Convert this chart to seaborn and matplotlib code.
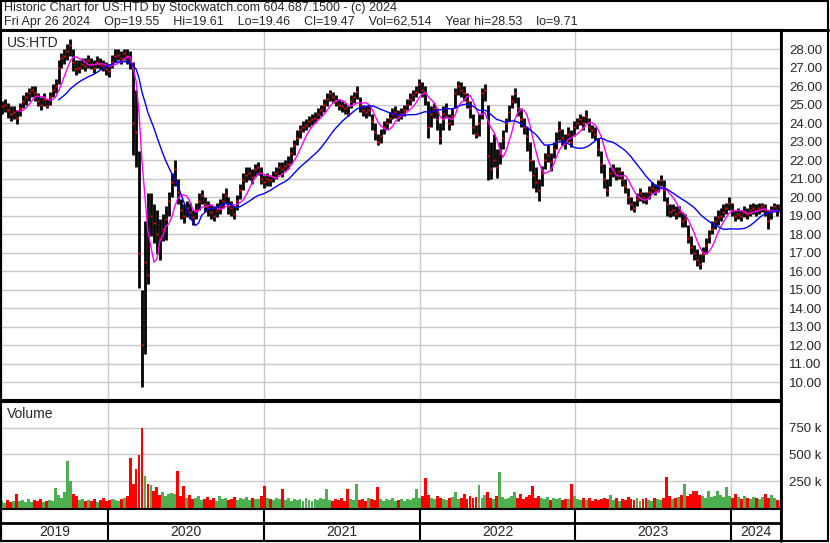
import numpy as np
import pandas as pd
import matplotlib
matplotlib.use("Agg")
import matplotlib.pyplot as plt
import seaborn as sns

sns.set_style("white")
plt.rcParams['font.family'] = ['Liberation Sans', 'DejaVu Sans']

# === weekly data (Apr 2019 - Apr 2024) ===
close = [24.9, 25.0, 24.7, 24.5, 24.6, 24.3, 24.8, 25.2, 25.4, 25.6,
         25.8, 25.6, 25.2, 25.0, 25.3, 24.9, 25.4, 25.8, 26.0, 27.0,
         27.5, 27.6, 27.9, 28.2, 27.3, 26.9, 27.0, 27.2, 27.1, 27.4,
         27.2, 27.0, 27.3, 27.2, 27.1, 26.9, 26.8, 27.3, 27.6, 27.7,
         27.5, 27.8, 27.6, 27.3, 24.0, 23.5, 17.0, 12.0, 16.5, 15.8,
         19.0, 18.6, 18.0, 17.8, 18.3, 18.8, 19.8, 20.8, 21.5, 20.3,
         19.3, 19.0, 19.4, 19.2, 18.9, 19.3, 19.8, 20.1, 19.6, 19.4,
         19.2, 19.0, 19.3, 19.5, 19.8, 20.1, 19.5, 19.4, 19.1, 19.8,
         20.4, 20.9, 21.2, 21.3, 21.1, 21.5, 21.6, 21.0, 20.8, 21.0,
         20.9, 21.1, 21.3, 21.6, 21.5, 21.7, 21.8, 22.4, 22.8, 23.2,
         23.6, 23.8, 23.9, 24.1, 24.2, 24.3, 24.5, 24.7, 25.0, 25.3,
         25.6, 25.4, 25.2, 25.0, 24.9, 24.8, 24.5, 25.2, 25.4, 25.7,
         25.0, 24.7, 24.6, 24.7, 24.1, 23.5, 23.0, 23.3, 23.8, 24.0,
         24.3, 24.5, 24.6, 24.4, 24.5, 24.7, 25.0, 25.3, 25.5, 25.7,
         26.1, 25.8, 25.6, 23.8, 24.5, 24.8, 24.2, 23.2, 24.5, 24.8,
         24.0, 24.4, 25.6, 26.0, 25.8, 25.6, 25.2, 24.8, 23.8, 23.4,
         24.0, 25.6, 25.8, 22.2, 21.5, 22.0, 21.6, 22.4, 23.2, 24.0,
         24.6, 25.2, 25.6, 24.8, 24.2, 23.8, 23.3, 22.0, 21.2, 20.8,
         20.4, 21.3, 22.0, 22.3, 21.9, 22.6, 23.0, 23.6, 23.2, 23.0,
         23.4, 23.0, 23.8, 24.0, 24.2, 24.0, 24.4, 23.8, 23.6, 23.4,
         22.6, 21.8, 21.0, 20.4, 21.3, 21.5, 21.2, 21.4, 21.0, 20.6,
         20.0, 19.6, 19.4, 19.9, 20.2, 20.0, 19.9, 20.3, 20.5, 20.4,
         20.6, 20.9, 20.4, 19.6, 19.2, 19.3, 19.1, 19.2, 18.7, 18.8,
         17.8, 17.3, 17.0, 16.6, 16.4, 16.9, 17.4, 17.9, 18.3, 18.7,
         18.9, 19.0, 19.2, 19.4, 19.7, 19.3, 19.0, 19.1, 19.0, 19.2,
         19.1, 19.3, 19.4, 19.3, 19.4, 19.5, 19.3, 18.7, 19.2, 19.5,
         19.3, 19.47]

high = [25.2, 25.3, 25.1, 24.9, 24.9, 24.7, 25.1, 25.5, 25.7, 25.9,
        26.0, 26.0, 25.6, 25.4, 25.6, 25.3, 25.7, 26.1, 26.4, 27.4,
        27.8, 28.0, 28.3, 28.53, 28.0, 27.4, 27.4, 27.5, 27.5, 27.7,
        27.5, 27.4, 27.6, 27.5, 27.4, 27.3, 27.2, 27.7, 28.0, 28.0,
        27.9, 28.0, 28.0, 27.9, 27.3, 25.8, 22.5, 15.0, 18.7, 20.2,
        20.2, 19.6, 19.3, 18.8, 19.1, 19.5, 20.3, 21.3, 22.0, 21.0,
        19.9, 19.6, 19.8, 19.7, 19.3, 19.7, 20.2, 20.4, 20.0, 19.8,
        19.6, 19.5, 19.7, 19.9, 20.2, 20.5, 20.0, 19.8, 19.5, 20.1,
        20.7, 21.3, 21.6, 21.6, 21.5, 21.8, 21.9, 21.6, 21.2, 21.3,
        21.2, 21.4, 21.6, 21.9, 21.9, 22.0, 22.2, 22.7, 23.1, 23.6,
        23.9, 24.1, 24.2, 24.4, 24.5, 24.6, 24.8, 25.0, 25.3, 25.6,
        25.8, 25.7, 25.5, 25.3, 25.2, 25.1, 24.9, 25.5, 25.7, 26.0,
        25.4, 25.0, 24.9, 25.0, 24.5, 24.0, 23.4, 23.7, 24.1, 24.3,
        24.6, 24.8, 24.9, 24.7, 24.8, 25.0, 25.3, 25.6, 25.8, 26.0,
        26.36, 26.2, 26.0, 25.2, 24.9, 25.1, 24.8, 24.0, 24.9, 25.1,
        24.5, 24.8, 25.9, 26.3, 26.2, 26.0, 25.6, 25.2, 24.5, 23.9,
        24.5, 25.9, 26.1, 25.0, 23.0, 23.4, 22.6, 23.0, 23.6, 24.3,
        25.0, 25.5, 25.9, 25.4, 24.8, 24.3, 23.8, 23.0, 22.0, 21.6,
        21.0, 21.7, 22.4, 22.8, 22.4, 23.0, 23.5, 24.1, 23.7, 23.4,
        23.8, 23.6, 24.1, 24.3, 24.5, 24.4, 24.7, 24.3, 23.9, 23.8,
        23.2, 22.5, 21.8, 21.0, 21.6, 21.8, 21.6, 21.6, 21.4, 21.0,
        20.5, 20.0, 19.8, 20.2, 20.5, 20.3, 20.3, 20.6, 20.8, 20.7,
        20.9, 21.2, 20.9, 20.0, 19.6, 19.6, 19.5, 19.5, 19.2, 19.1,
        18.5, 17.9, 17.4, 17.2, 16.9, 17.3, 17.8, 18.2, 18.7, 19.0,
        19.3, 19.4, 19.6, 19.7, 20.0, 19.7, 19.3, 19.4, 19.3, 19.5,
        19.4, 19.6, 19.7, 19.6, 19.7, 19.7, 19.6, 19.3, 19.5, 19.7,
        19.6, 19.61]

low = [24.5, 24.6, 24.3, 24.1, 24.2, 23.96, 24.4, 24.8, 25.0, 25.2,
       25.4, 25.2, 24.9, 24.7, 24.9, 24.8, 25.0, 25.4, 25.6, 26.1,
       27.0, 27.2, 27.4, 27.6, 26.8, 26.6, 26.7, 26.9, 26.8, 27.0,
       26.9, 26.7, 27.0, 26.9, 26.8, 26.6, 26.5, 27.0, 27.3, 27.4,
       27.2, 27.4, 27.2, 26.9, 22.3, 21.6, 15.1, 9.71, 11.5, 15.3,
       17.9, 17.5, 16.9, 16.6, 17.6, 17.7, 19.0, 20.0, 20.6, 19.6,
       18.8, 18.6, 18.9, 18.8, 18.5, 18.8, 19.3, 19.6, 19.2, 19.0,
       18.8, 18.7, 18.9, 19.1, 19.4, 19.6, 19.1, 19.0, 18.8, 19.3,
       19.9, 20.4, 20.8, 20.9, 20.7, 21.1, 21.2, 20.7, 20.5, 20.6,
       20.6, 20.8, 21.0, 21.2, 21.1, 21.4, 21.5, 21.8, 22.3, 22.8,
       23.2, 23.5, 23.6, 23.8, 23.9, 24.0, 24.2, 24.4, 24.6, 24.9,
       25.2, 25.1, 24.9, 24.7, 24.6, 24.5, 24.4, 24.8, 25.1, 25.3,
       24.6, 24.4, 24.3, 24.4, 23.6, 23.1, 22.8, 22.9, 23.4, 23.7,
       24.0, 24.2, 24.3, 24.1, 24.2, 24.4, 24.7, 25.0, 25.2, 25.4,
       25.6, 25.4, 25.0, 23.2, 23.8, 24.3, 23.6, 22.85, 23.6, 24.3,
       23.6, 23.9, 24.8, 25.5, 25.4, 25.2, 24.8, 24.3, 23.4, 23.2,
       23.3, 24.2, 25.2, 20.9, 21.0, 21.6, 21.05, 21.8, 22.6, 23.5,
       24.1, 24.8, 25.1, 24.4, 23.8, 23.4, 22.5, 21.4, 20.5, 20.3,
       19.8, 20.6, 21.5, 21.9, 21.4, 22.1, 22.6, 23.1, 22.8, 22.6,
       23.0, 22.7, 23.3, 23.7, 23.9, 23.6, 24.0, 23.5, 23.2, 23.1,
       22.2, 21.3, 20.5, 20.05, 20.6, 21.1, 20.9, 21.0, 20.6, 20.2,
       19.6, 19.3, 19.2, 19.5, 19.8, 19.7, 19.6, 19.9, 20.2, 20.1,
       20.3, 20.6, 19.8, 19.0, 18.9, 19.0, 18.8, 18.9, 18.4, 18.4,
       17.5, 16.9, 16.6, 16.3, 16.1, 16.5, 16.9, 17.5, 18.0, 18.3,
       18.5, 18.7, 18.9, 19.1, 19.3, 19.0, 18.7, 18.8, 18.7, 18.9,
       18.8, 19.0, 19.1, 19.0, 19.1, 19.2, 19.0, 18.3, 18.8, 19.2,
       19.0, 19.2]

# volume in thousands of shares
volume_k = [60, 45, 70, 55, 65, 130, 60, 75, 50, 80,
            55, 70, 60, 85, 50, 65, 75, 60, 188, 120,
            90, 150, 440, 250, 130, 110, 70, 85, 60, 75,
            65, 80, 55, 70, 90, 60, 75, 85, 70, 60,
            80, 95, 110, 463, 220, 364, 497, 753, 300, 220,
            210, 160, 193, 120, 150, 110, 130, 140, 130, 344,
            110, 207, 90, 120, 80, 95, 110, 70, 85, 100,
            75, 90, 60, 110, 80, 95, 70, 85, 100, 75,
            90, 80, 105, 70, 95, 85, 80, 110, 207, 95,
            80, 70, 95, 85, 173, 75, 90, 60, 80, 70,
            85, 65, 90, 75, 60, 80, 70, 95, 85, 173,
            70, 60, 85, 75, 90, 65, 173, 80, 70, 224,
            75, 85, 60, 90, 80, 70, 190, 85, 65, 80,
            70, 90, 60, 75, 85, 65, 80, 70, 90, 173,
            95, 110, 275, 120, 90, 80, 110, 95, 85, 75,
            90, 100, 148, 85, 95, 130, 80, 110, 90, 100,
            216, 95, 120, 145, 90, 80, 110, 335, 100, 85,
            95, 110, 150, 90, 130, 85, 100, 120, 207, 95,
            110, 90, 80, 100, 75, 95, 85, 90, 70, 80,
            85, 224, 110, 80, 70, 90, 75, 95, 65, 85,
            70, 80, 95, 85, 115, 75, 90, 60, 80, 70,
            105, 85, 70, 90, 60, 80, 95, 75, 65, 90,
            85, 70, 95, 293, 110, 80, 90, 100, 120, 224,
            110, 130, 156, 156, 120, 110, 95, 156, 100, 110,
            160, 120, 100, 190, 110, 95, 130, 100, 85, 110,
            95, 80, 105, 90, 85, 100, 130, 95, 115, 90,
            75, 63]

years = ["2019", "2020", "2021", "2022", "2023", "2024"]
price_ticks = [10, 11, 12, 13, 14, 15, 16, 17, 18, 19,
               20, 21, 22, 23, 24, 25, 26, 27, 28]
volume_ticks_k = [250, 500, 750]

# === build frame ===
dates = pd.date_range(end="2024-04-26", periods=len(close), freq="W-FRI")
df = pd.DataFrame({"date": dates, "close": close, "high": high, "low": low,
                   "volume": np.array(volume_k) * 1000})
df["ma_fast"] = df["close"].rolling(6).mean()
df["ma_slow"] = df["close"].rolling(20).mean()
df["up"] = df["close"].diff().fillna(0) >= 0

x_start = dates[0] - pd.Timedelta(days=2)
x_end = dates[-1] + pd.Timedelta(days=2)
year_starts = [pd.Timestamp(f"{y}-01-01") for y in years[1:]]
year_bounds = [x_start] + year_starts + [x_end]

# === figure in pixel layout ===
W, H = 830, 543
fig = plt.figure(figsize=(W / 100, H / 100), dpi=100)


def box(x0, y0, x1, y1):
    return [x0 / W, 1 - y1 / H, (x1 - x0) / W, (y1 - y0) / H]


ax_p = fig.add_axes(box(1, 30, 781, 400))
ax_v = fig.add_axes(box(1, 402, 781, 509))
ax_x = fig.add_axes(box(1, 509, 781, 541))

grid_c = "#c8c8c8"

# --- price panel ---
ax_p.vlines(df["date"], df["low"], df["high"], color="black", lw=2.0, zorder=3)
ax_p.plot(df["date"], df["close"], ls="none", marker="s", ms=1.8,
          color="red", mec="none", zorder=4)
sns.lineplot(data=df, x="date", y="ma_fast", color="#ff00ff", lw=1.0, ax=ax_p, zorder=5)
sns.lineplot(data=df, x="date", y="ma_slow", color="#0000ff", lw=1.0, ax=ax_p, zorder=5)
ax_p.set_xlim(x_start, x_end)
ax_p.set_ylim(9.03, 29.03)
ax_p.set_yticks(price_ticks)
ax_p.set_yticklabels([f"{v:.2f}" for v in price_ticks])
ax_p.set_xticks(year_starts)
ax_p.set_xticklabels([])
ax_p.text(0.008, 0.985, "US:HTD", transform=ax_p.transAxes, ha="left", va="top", fontsize=10)

# --- volume panel ---
bar_colors = np.where(df["up"], "#4cb050", "#ff0000")
ax_v.bar(df["date"], df["volume"], width=6.8, color=bar_colors, linewidth=0, zorder=3)
ax_v.set_xlim(x_start, x_end)
ax_v.set_ylim(-12000, 993000)
ax_v.set_yticks([v * 1000 for v in volume_ticks_k])
ax_v.set_yticklabels([f"{v} k" for v in volume_ticks_k])
ax_v.set_xticks(year_starts)
ax_v.set_xticklabels([])
ax_v.text(0.008, 0.95, "Volume", transform=ax_v.transAxes, ha="left", va="top", fontsize=10)

for ax in (ax_p, ax_v):
    ax.set_xlabel("")
    ax.set_ylabel("")
    ax.yaxis.tick_right()
    ax.tick_params(axis="y", length=0, pad=6, labelsize=9.5)
    ax.tick_params(axis="x", length=0)
    ax.grid(True, color=grid_c, lw=1.0, zorder=0)
    ax.set_axisbelow(True)
    for s in ax.spines.values():
        s.set_color("black")
        s.set_linewidth(1.5)

# --- year band ---
ax_x.set_xlim(x_start, x_end)
ax_x.set_ylim(0, 1)
ax_x.axhline(0.56, color="black", lw=2)
for d in year_starts:
    ax_x.axvline(d, color="black", lw=1.5)
for i, y in enumerate(years):
    mid = year_bounds[i] + (year_bounds[i + 1] - year_bounds[i]) / 2
    ax_x.text(mid, 0.27, y, ha="center", va="center", fontsize=10)
ax_x.set_xticks([])
ax_x.set_yticks([])
for s in ax_x.spines.values():
    s.set_color("black")
    s.set_linewidth(1.5)

# --- header and outer frame ---
fig.text(4 / W, 1 - 8.5 / H, "Historic Chart for US:HTD by Stockwatch.com 604.687.1500 - (c) 2024",
         ha="left", va="center", fontsize=9)
fig.text(4 / W, 1 - 21.5 / H,
         "Fri Apr 26 2024    Op=19.55    Hi=19.61    Lo=19.46    Cl=19.47    Vol=62,514    Year hi=28.53    lo=9.71",
         ha="left", va="center", fontsize=9)
frame = plt.Rectangle((1 / W, 2 / H), 827 / W, 540 / H, transform=fig.transFigure,
                      fill=False, edgecolor="black", lw=1.5)
fig.add_artist(frame)
fig.add_artist(plt.Line2D([781 / W, 781 / W], [2 / H, 1 - 30 / H], transform=fig.transFigure,
                          color="black", lw=2))
fig.add_artist(plt.Line2D([1 / W, 828 / W], [1 - 30 / H, 1 - 30 / H], transform=fig.transFigure,
                          color="black", lw=2.2))

fig.savefig("out.png", dpi=100)
